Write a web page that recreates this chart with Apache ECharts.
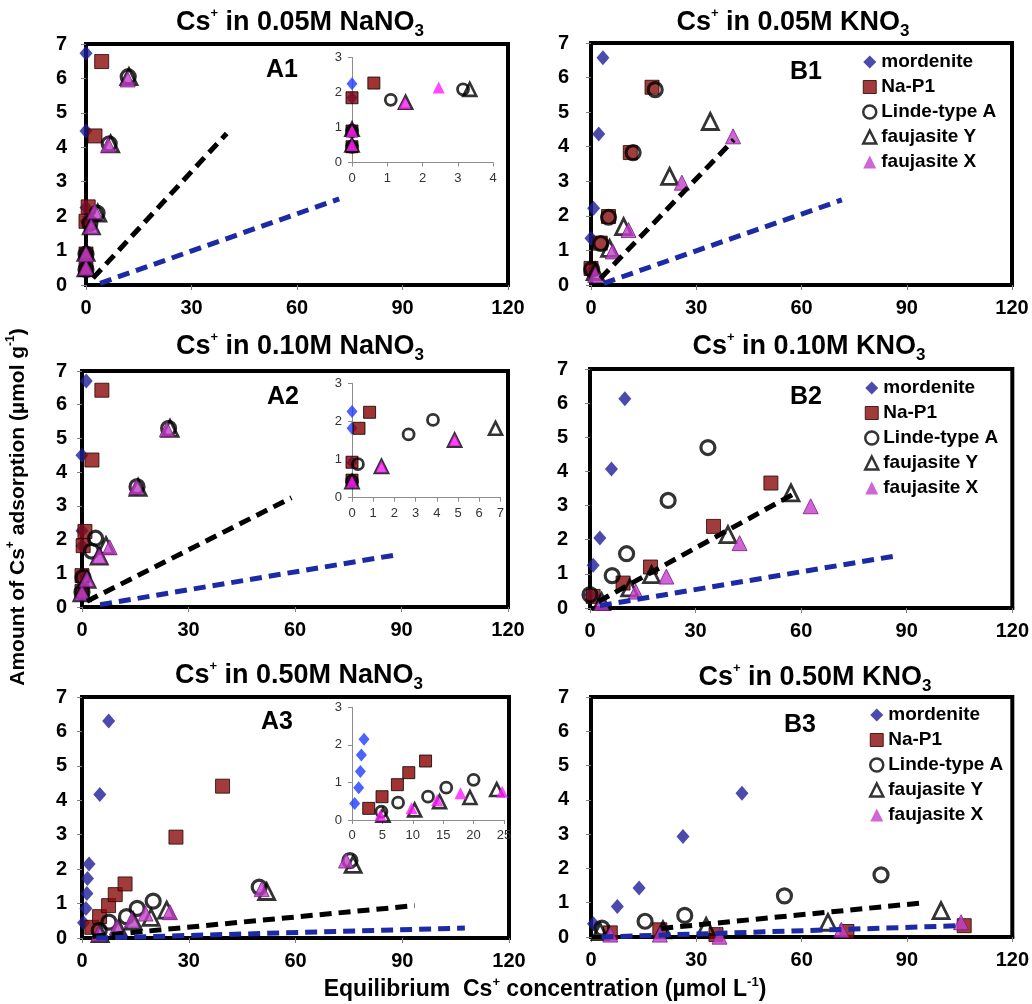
<!DOCTYPE html>
<html><head><meta charset="utf-8">
<script src="https://cdn.jsdelivr.net/npm/echarts@6/dist/echarts.min.js"></script>
<style>html,body{margin:0;padding:0;background:#fff}#c{width:1032px;height:1004px}</style>
</head><body><div id="c"></div>
<script>
// ---------------- DATA ----------------
const seriesNames = ['mordenite', 'Na-P1', 'Linde-type A', 'faujasite Y', 'faujasite X'];
const panelTitles = ['0.05M NaNO', '0.05M KNO', '0.10M NaNO', '0.10M KNO', '0.50M NaNO', '0.50M KNO'];
const panelLabels = ['A1', 'B1', 'A2', 'B2', 'A3', 'B3'];
const xTickMax = 120, xTickStep = 30, yTickMax = 7, yTickStep = 1;

// A1 : Cs+ in 0.05M NaNO3
const A1_mordenite = [[0,0.45],[0,0.9],[0,1.85],[0,2.25],[0,4.47],[0,6.73]];
const A1_naP1      = [[0,0.45],[0,0.9],[0,1.85],[0.62,2.27],[2.56,4.33],[4.46,6.49]];
const A1_linde     = [[0,0.45],[0,0.9],[1.1,1.79],[3.15,2.09],[6.6,4.1],[12,6.05]];
const A1_fauY      = [[0,0.5],[0,0.95],[1.52,1.72],[3.34,2.09],[7,4.1],[12.2,6.05]];
const A1_fauX      = [[0,0.5],[0,0.9],[1.5,1.7],[2.46,2.14],[6.3,4.07],[11.85,5.97]];
const A1_lineBlack = [[2,0.2],[40,4.4]];
const A1_lineBlue  = [[4,0.05],[72,2.5]];

// B1 : Cs+ in 0.05M KNO3
const B1_mordenite = [[0,0.4],[0,1.35],[0.75,2.22],[2.2,4.37],[3.4,6.57]];
const B1_naP1      = [[0,0.48],[2.65,1.21],[5,1.98],[11.2,3.83],[17.4,5.72]];
const B1_linde     = [[0.2,0.45],[2.8,1.2],[5,1.96],[12,3.83],[18.3,5.65]];
const B1_fauY      = [[1.2,0.39],[5.3,1.06],[9.3,1.69],[22.4,3.14],[34,4.73]];
const B1_fauX      = [[1.2,0.29],[6.2,0.97],[10.7,1.59],[25.9,2.96],[40.5,4.3]];
const B1_lineBlack = [[2.7,0.19],[40.7,4.2]];
const B1_lineBlue  = [[3.6,0.05],[71.5,2.46]];

// A2 : Cs+ in 0.10M NaNO3
const A2_mordenite = [[0,0.46],[0,0.92],[0,1.82],[0,2.26],[0,4.5],[1.2,6.7]];
const A2_naP1      = [[0,0.46],[0,0.93],[0.33,1.82],[0.83,2.24],[2.8,4.36],[5.6,6.43]];
const A2_linde     = [[0,0.44],[0.28,0.88],[2.67,1.66],[3.82,2.04],[15.5,3.57],[24.4,5.3]];
const A2_fauY      = [[0,0.42],[1.39,0.82],[4.84,1.51],[6.77,1.82],[15.8,3.55],[24.8,5.3]];
const A2_fauX      = [[0,0.42],[1.39,0.82],[4.84,1.51],[7.8,1.77],[15.3,3.56],[23.9,5.27]];
const A2_lineBlack = [[1.4,0.17],[59,3.24]];
const A2_lineBlue  = [[5.1,0.07],[87.6,1.53]];

// B2 : Cs+ in 0.10M KNO3
const B2_mordenite = [[0,0.39],[0.9,1.25],[2.8,2.05],[6.1,4.07],[9.9,6.13]];
const B2_naP1      = [[0.9,0.34],[9.4,0.73],[17.2,1.2],[35.1,2.39],[51.4,3.66]];
const B2_linde     = [[0,0.39],[6.3,0.95],[10.4,1.59],[22.2,3.15],[33.5,4.7]];
const B2_fauY      = [[3.3,0.19],[11.3,0.59],[17.5,0.98],[39.2,2.15],[57.1,3.37]];
const B2_fauX      = [[3.3,0.15],[13,0.48],[21.7,0.92],[42.5,1.9],[62.7,2.98]];
const B2_lineBlack = [[2.4,0.19],[57.5,3.32]];
const B2_lineBlue  = [[2.8,0.07],[87.7,1.54]];

// A3 : Cs+ in 0.50M NaNO3
const A3_mordenite = [[0.44,0.44],[1.1,0.86],[1.38,1.29],[1.54,1.73],[1.98,2.15],[5.0,4.17],[7.5,6.3]];
const A3_naP1      = [[2.75,0.31],[4.94,0.62],[7.47,0.94],[9.34,1.26],[12.1,1.57],[26.4,2.93],[39.5,4.41]];
const A3_linde     = [[4.84,0.22],[7.58,0.46],[12.5,0.62],[15.5,0.86],[20,1.07],[49.8,1.48],[75.3,2.25]];
const A3_fauY      = [[5.1,0.13],[10.3,0.27],[14.4,0.49],[19.4,0.6],[23.8,0.81],[51.9,1.35],[76.2,2.14]];
const A3_fauX      = [[4.68,0.13],[9.8,0.31],[14,0.53],[17.85,0.71],[24.7,0.75],[50.5,1.42],[74.2,2.25]];
const A3_lineBlack = [[3,0.05],[93.5,0.94]];
const A3_lineBlue  = [[4,0],[107.6,0.29]];

// B3 : Cs+ in 0.50M KNO3
const B3_mordenite = [[0.7,0.39],[7.5,0.89],[13.7,1.43],[26.2,2.93],[43,4.19]];
const B3_naP1      = [[5.5,0.12],[19.6,0.21],[35.6,0.07],[72.9,0.16],[106.3,0.33]];
const B3_linde     = [[3.1,0.26],[15.4,0.46],[26.7,0.63],[55.1,1.2],[82.6,1.81]];
const B3_fauY      = [[2.6,0.16],[20.5,0.21],[32.8,0.31],[67.5,0.43],[99.7,0.77]];
const B3_fauX      = [[5.5,0.07],[19.6,0.07],[36.6,0.01],[71.3,0.21],[105.4,0.43]];
const B3_lineBlack = [[20,0.25],[95,1.0]];
const B3_lineBlue  = [[3,0],[105.4,0.33]];

// inset ranges [xmax, xstep] (y range 0..3 step 1)
const insetXMax  = [4, 7, 25];
const insetXStep = [1, 1, 5];
const insetYMax = 3;

// ---------------- LAYOUT / STYLE ----------------
const FONT = "'Liberation Sans', Arial, Helvetica, sans-serif";
const panelData = [
  [A1_mordenite, A1_naP1, A1_linde, A1_fauY, A1_fauX, A1_lineBlack, A1_lineBlue],
  [B1_mordenite, B1_naP1, B1_linde, B1_fauY, B1_fauX, B1_lineBlack, B1_lineBlue],
  [A2_mordenite, A2_naP1, A2_linde, A2_fauY, A2_fauX, A2_lineBlack, A2_lineBlue],
  [B2_mordenite, B2_naP1, B2_linde, B2_fauY, B2_fauX, B2_lineBlack, B2_lineBlue],
  [A3_mordenite, A3_naP1, A3_linde, A3_fauY, A3_fauX, A3_lineBlack, A3_lineBlue],
  [B3_mordenite, B3_naP1, B3_linde, B3_fauY, B3_fauX, B3_lineBlack, B3_lineBlue]
];
const mainBoxes = [
  {left: 86, top: 44, width: 422, height: 241, ym: 19},
  {left: 591, top: 43, width: 421, height: 242, ym: 22},
  {left: 82, top: 371, width: 426, height: 236, ym: 15},
  {left: 590, top: 369, width: 424, height: 239, ym: 22},
  {left: 82, top: 697, width: 427, height: 241, ym: 15},
  {left: 591, top: 697, width: 424, height: 240, ym: 22}
];
const insetBoxes = [
  {panel: 0, left: 352, top: 57.5, width: 141, height: 105},
  {panel: 2, left: 352, top: 383.3, width: 148.4, height: 114.4},
  {panel: 4, left: 352, top: 707.3, width: 152, height: 112.7}
];
const titlePos = [[300,23],[793,23],[300,347],[809,347],[299,676],[815,678]];
const labelPos = [[282,70],[806,72],[283,397],[806,397],[277,722],[800,725]];
const legendPos = [[862,52],[864,378],[869,705]];

const mainStyles = [
  {symbol: 'diamond', size: [13,15], itemStyle: {color: '#1e1e98', borderWidth: 0}},
  {symbol: 'rect', size: 14, itemStyle: {color: '#8a0b0b', borderColor: '#2a0000', borderWidth: 1}},
  {symbol: 'circle', size: 14, itemStyle: {color: 'rgba(0,0,0,0)', borderColor: '#000', borderWidth: 3.2}},
  {symbol: 'triangle', size: 16, itemStyle: {color: 'rgba(0,0,0,0)', borderColor: '#000', borderWidth: 2.8}},
  {symbol: 'triangle', size: 15, itemStyle: {color: '#c43fcc', borderColor: '#7a1a85', borderWidth: 1}}
];
const insetStyles = [
  {symbol: 'diamond', size: [11,13], itemStyle: {color: '#1f3cff', borderWidth: 0}},
  {symbol: 'rect', size: 12, itemStyle: {color: '#8a0000', borderColor: '#000', borderWidth: 1}},
  {symbol: 'circle', size: 11, itemStyle: {color: 'rgba(0,0,0,0)', borderColor: '#000', borderWidth: 2.8}},
  {symbol: 'triangle', size: 13, itemStyle: {color: 'rgba(0,0,0,0)', borderColor: '#000', borderWidth: 2.6}},
  {symbol: 'triangle', size: 12, itemStyle: {color: '#ff1aff', borderWidth: 0}}
];

const grid = [], xAxis = [], yAxis = [], series = [];

mainBoxes.forEach((b, i) => {
  grid.push({left: b.left, top: b.top, width: b.width, height: b.height, show: true,
    borderColor: '#000', borderWidth: 4, backgroundColor: 'transparent', containLabel: false});
  xAxis.push({gridIndex: i, type: 'value', min: 0, max: xTickMax, interval: xTickStep,
    axisLine: {show: true, onZero: false, lineStyle: {color: '#000', width: 4}},
    axisTick: {show: true, length: 5, lineStyle: {color: '#808080', width: 1}},
    axisLabel: {fontSize: 20, fontWeight: 'bold', color: '#000', fontFamily: FONT, margin: 13,
      showMinLabel: true, showMaxLabel: true},
    splitLine: {show: false}});
  yAxis.push({gridIndex: i, type: 'value', min: 0, max: yTickMax, interval: yTickStep,
    axisLine: {show: true, onZero: false, lineStyle: {color: '#000', width: 4}},
    axisTick: {show: true, length: 5, lineStyle: {color: '#808080', width: 1}},
    axisLabel: {fontSize: 20, fontWeight: 'bold', color: '#000', fontFamily: FONT, margin: b.ym,
      showMinLabel: true, showMaxLabel: true},
    splitLine: {show: false}});
  const d = panelData[i];
  for (let s = 0; s < 5; s++) {
    const st = mainStyles[s];
    series.push({type: 'scatter', name: seriesNames[s], xAxisIndex: i, yAxisIndex: i,
      data: d[s], symbol: st.symbol, symbolSize: st.size, itemStyle: st.itemStyle,
      clip: false, silent: true, z: 2});
  }
  series.push({type: 'line', name: 'black dashed ' + i, xAxisIndex: i, yAxisIndex: i, data: d[5],
    symbol: 'none', silent: true, z: 3,
    lineStyle: {color: '#000', width: 5, type: [12, 7], cap: 'butt'}});
  series.push({type: 'line', name: 'blue dashed ' + i, xAxisIndex: i, yAxisIndex: i, data: d[6],
    symbol: 'none', silent: true, z: 3,
    lineStyle: {color: '#1c2aa6', width: 5, type: [12, 7], cap: 'butt'}});
});

insetBoxes.forEach((b, k) => {
  const gi = 6 + k;
  const xm = insetXMax[k];
  grid.push({left: b.left, top: b.top, width: b.width, height: b.height, show: false, containLabel: false});
  xAxis.push({gridIndex: gi, type: 'value', min: 0, max: xm, interval: insetXStep[k],
    axisLine: {show: true, onZero: false, lineStyle: {color: '#8c8c8c', width: 1}},
    axisTick: {show: true, length: 4, lineStyle: {color: '#8c8c8c', width: 1}},
    axisLabel: {fontSize: 13, color: '#333', fontFamily: FONT, margin: 9, showMinLabel: true, showMaxLabel: true},
    splitLine: {show: false}});
  yAxis.push({gridIndex: gi, type: 'value', min: 0, max: insetYMax, interval: 1,
    axisLine: {show: true, onZero: false, lineStyle: {color: '#8c8c8c', width: 1}},
    axisTick: {show: true, length: 4, lineStyle: {color: '#8c8c8c', width: 1}},
    axisLabel: {fontSize: 13, color: '#333', fontFamily: FONT, margin: 10, showMinLabel: true, showMaxLabel: true},
    splitLine: {show: false}});
  const d = panelData[b.panel];
  for (let s = 0; s < 5; s++) {
    const st = insetStyles[s];
    series.push({type: 'scatter', name: seriesNames[s], xAxisIndex: gi, yAxisIndex: gi,
      data: d[s].filter(p => p[0] <= xm * 1.01 && p[1] <= insetYMax),
      symbol: st.symbol, symbolSize: st.size, itemStyle: st.itemStyle, clip: false, silent: true, z: 4});
  }
});

const legendIcons = [
  {name: seriesNames[0], icon: 'diamond', itemStyle: {color: '#1e1e98', borderWidth: 0}},
  {name: seriesNames[1], icon: 'rect', itemStyle: {color: '#8a0b0b', borderColor: '#2a0000', borderWidth: 1}},
  {name: seriesNames[2], icon: 'circle', itemStyle: {color: 'rgba(0,0,0,0)', borderColor: '#000', borderWidth: 2.5}},
  {name: seriesNames[3], icon: 'triangle', itemStyle: {color: 'rgba(0,0,0,0)', borderColor: '#000', borderWidth: 2.5}},
  {name: seriesNames[4], icon: 'triangle', itemStyle: {color: '#c43fcc', borderWidth: 0}}
];
const legend = legendPos.map(p => ({
  left: p[0], top: p[1], orient: 'vertical', itemWidth: 13, itemHeight: 13, itemGap: 5,
  selectedMode: false, padding: 0,
  textStyle: {fontSize: 19, fontWeight: 'bold', color: '#000', fontFamily: FONT, lineHeight: 20},
  data: legendIcons
}));

function richTitle(t) {
  return '{m|Cs}{sup|+}{m| in ' + t + '}{sub|3}';
}
const titleRich = {
  m: {fontSize: 27, fontWeight: 'bold', fontFamily: FONT, fill: '#000', color: '#000', lineHeight: 33},
  sup: {fontSize: 13, fontWeight: 'bold', fontFamily: FONT, fill: '#000', color: '#000', lineHeight: 17, verticalAlign: 'top'},
  sub: {fontSize: 17, fontWeight: 'bold', fontFamily: FONT, fill: '#000', color: '#000', lineHeight: 16, verticalAlign: 'bottom'}
};
const graphic = [];
panelTitles.forEach((t, i) => {
  graphic.push({type: 'text', x: titlePos[i][0], y: titlePos[i][1], silent: true,
    style: {text: richTitle(t), rich: titleRich, align: 'center', verticalAlign: 'middle',
      textAlign: 'center', textVerticalAlign: 'middle', fill: '#000',
      font: 'bold 27px ' + FONT}});
  graphic.push({type: 'text', x: labelPos[i][0], y: labelPos[i][1], silent: true,
    style: {text: panelLabels[i], align: 'center', verticalAlign: 'middle',
      textAlign: 'center', textVerticalAlign: 'middle', fill: '#000', font: 'bold 25px ' + FONT}});
});
const yRich = {
  m: {fontSize: 21, fontWeight: 'bold', fontFamily: FONT, fill: '#000', color: '#000', lineHeight: 26},
  sup: {fontSize: 12, fontWeight: 'bold', fontFamily: FONT, fill: '#000', color: '#000', lineHeight: 15, verticalAlign: 'top'}
};
const xRich = {
  m: {fontSize: 23, fontWeight: 'bold', fontFamily: FONT, fill: '#000', color: '#000', lineHeight: 28},
  sup: {fontSize: 13, fontWeight: 'bold', fontFamily: FONT, fill: '#000', color: '#000', lineHeight: 16, verticalAlign: 'top'}
};
graphic.push({type: 'text', x: 18, y: 507, rotation: Math.PI / 2, silent: true,
  style: {text: '{m|Amount of Cs}{sup|+}{m| adsorption (µmol g}{sup|-1}{m|)}', rich: yRich,
    align: 'center', verticalAlign: 'middle', textAlign: 'center', textVerticalAlign: 'middle',
    fill: '#000', font: 'bold 21px ' + FONT}});
graphic.push({type: 'text', x: 545, y: 990, silent: true,
  style: {text: '{m|Equilibrium  Cs}{sup|+}{m| concentration (µmol L}{sup|-1}{m|)}', rich: xRich,
    align: 'center', verticalAlign: 'middle', textAlign: 'center', textVerticalAlign: 'middle',
    fill: '#000', font: 'bold 23px ' + FONT}});

const chart = echarts.init(document.getElementById('c'), null, {renderer: 'canvas'});
chart.setOption({
  backgroundColor: '#fff',
  animation: false,
  grid, xAxis, yAxis, series, legend, graphic
});
</script></body></html>
